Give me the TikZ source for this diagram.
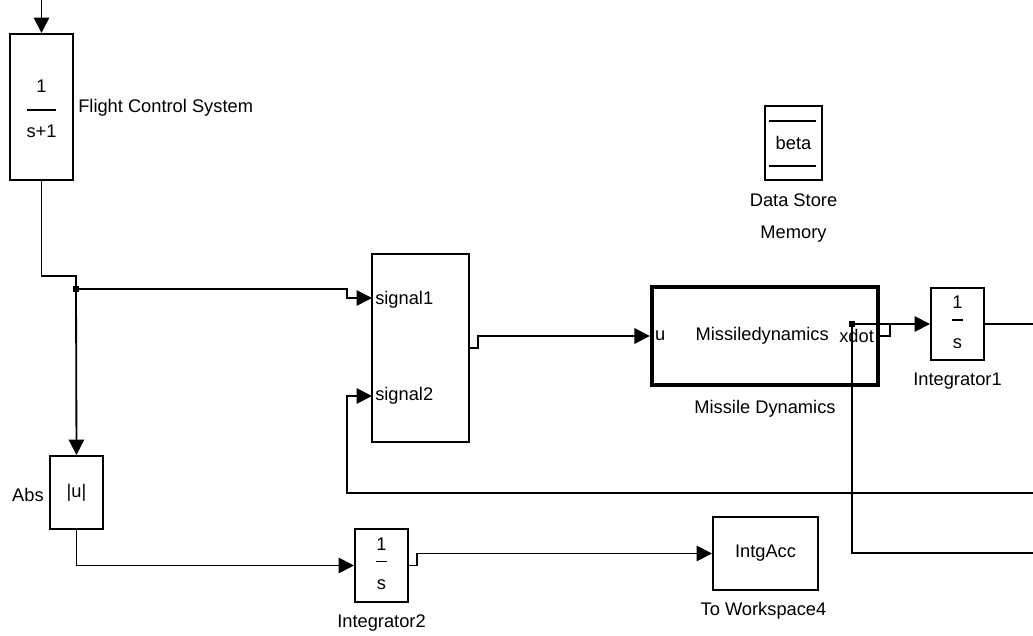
\documentclass[tikz,border=0pt]{standalone}
\usepackage{fontspec}
\setmainfont{Liberation Sans}
\usetikzlibrary{arrows.meta, positioning, calc}

% numeratore / linea di frazione / denominatore dentro un blocco
\newcommand{\blkfrac}[5]{%
  \begin{tabular}{@{}c@{}}#1\\[#4]\rule[0.3em]{#3}{1pt}\\[#5]#2\end{tabular}}

\begin{document}
\begin{tikzpicture}[
  x=0.025cm, y=-0.025cm,
  font=\fontsize{13}{15.6}\selectfont,
  blk/.style={draw=black, fill=white, line width=1.4pt, align=center, inner sep=0pt},
  thickblk/.style={blk, line width=3pt},
  wire/.style={draw=black, line width=1.3pt},
  arr/.style={wire, -{Triangle[length=11pt,width=11pt]}},
  jdot/.style={rectangle, fill=black, minimum size=4pt, inner sep=0pt},
  lab/.style={inner sep=0pt}
]
\useasboundingbox (0,0) rectangle (1033,636);

%--------------------------------------------------------------
% Blocchi
%--------------------------------------------------------------
\node[blk, minimum width=1.575cm, minimum height=3.65cm] (fcs) at (41.5,107)
  {\blkfrac{\rule{0pt}{16.5pt}1}{s+1}{20pt}{1pt}{0pt}};
\node[blk, minimum width=2.425cm, minimum height=4.7cm] (sigblk) at (420.5,348) {};
\node[thickblk, minimum width=5.65cm, minimum height=2.45cm] (missile) at (765,336) {};
\node[blk, minimum width=1.325cm, minimum height=1.8cm] (int1) at (957.5,324)
  {\blkfrac{1}{s}{8.5pt}{-3pt}{0pt}};
\node[blk, minimum width=1.325cm, minimum height=1.825cm] (abs) at (76.5,492.5) {|u|};
\node[blk, minimum width=1.325cm, minimum height=1.825cm] (int2) at (381.5,565.5)
  {\blkfrac{1}{s}{8.5pt}{-3pt}{0pt}};
\node[blk, minimum width=2.625cm, minimum height=1.825cm] (tows) at (765.5,553.5) {IntgAcc};
\node[blk, minimum width=1.425cm, minimum height=1.85cm] (dsm) at (793.5,143) {beta};
\draw[wire] ($(dsm.north west)+(5,16)$) -- ($(dsm.north east)+(-7,16)$);
\draw[wire] ($(dsm.south west)+(5,-15)$) -- ($(dsm.south east)+(-7,-15)$);

%--------------------------------------------------------------
% Etichette
%--------------------------------------------------------------
\node[lab, anchor=west] (fcslbl) at ($(fcs.east)+(4,1)$) {Flight Control System};
\node[lab, anchor=east] (abslbl) at ($(abs.west)+(-5,2)$) {Abs};
\node[lab] (int1lbl) at ($(int1.south)+(0,20)$) {Integrator1};
\node[lab] (int2lbl) at ($(int2.south)+(0,20)$) {Integrator2};
\node[lab] (missilelbl) at ($(missile.south)+(0,22)$) {Missile Dynamics};
\node[lab] (towslbl) at ($(tows.south)+(-2,20)$) {To Workspace4};
\node[lab, align=center] (dsmlbl) at ($(dsm.south)+(0,37)$) {Data Store\\[7pt]Memory};

% porte
\coordinate (sig1in) at (372,298);
\coordinate (sig2in) at (372,396);
\node[lab, anchor=west] (sig1) at ($(sig1in)+(3,2)$) {signal1};
\node[lab, anchor=west] (sig2) at ($(sig2in)+(3,0)$) {signal2};
\node[lab, anchor=west] (uport) at ($(missile.west)+(5,0)$) {u};
\node[lab, anchor=east] (xdot) at ($(missile.east)+(-6,0)$) {xdot};
\node[lab, anchor=east] (mdtext) at ($(xdot.west)+(-10,0)$) {Missiledynamics};

%--------------------------------------------------------------
% Punti di diramazione e bordo destro
%--------------------------------------------------------------
\coordinate (topin) at (41.5,0);
\coordinate (bend) at (76,276);
\coordinate (split) at (76,289);
\coordinate (xsplit) at (852,0 |- int1.west);
\coordinate (eR1) at (1033,0 |- int1.east);
\coordinate (eR2) at (1033,493);
\coordinate (eR3) at (1033,553);

%--------------------------------------------------------------
% Collegamenti
%--------------------------------------------------------------
\draw[arr] (topin) -- (fcs.north);
\draw[wire] (fcs.south) |- (bend) -- (split);
\draw[arr] (split) -- (347,289) |- (sig1in);
\draw[arr] (split) -- (abs.north);
\node[jdot] at (split) {};

\draw[arr] (sigblk.east) -- ++(8,0) |- (missile.west);
\draw[arr] (missile.east) -- ++(10,0) coordinate (xstep) |- (int1.west);
\draw[wire] (xsplit) -- (xstep |- int1.west);
\draw[wire] (xsplit) |- (eR3);
\node[jdot] at (xsplit) {};
\draw[wire] (int1.east) -- (eR1);

% ritorno verso signal2
\draw[arr] (eR2) -- (347,493) |- (sig2in);

\draw[arr] (abs.south) |- (int2.west);
\draw[arr] (int2.east) -- ++(8,0) |- (tows.west);

\end{tikzpicture}
\end{document}
